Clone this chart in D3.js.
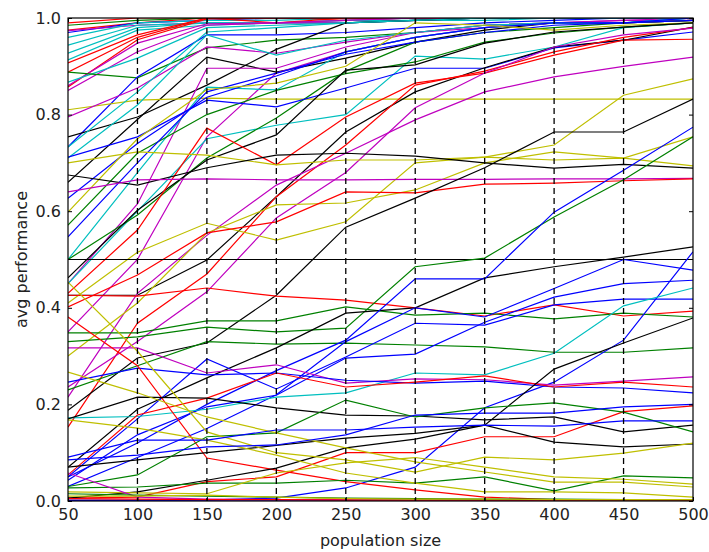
<!DOCTYPE html>
<html>
<head>
<meta charset="utf-8">
<script src="https://cdn.jsdelivr.net/npm/d3@7"></script>
<style>
  body { margin: 0; background: #fff; }
  svg { font-family: "DejaVu Sans", sans-serif; }
</style>
</head>
<body>
<svg width="709" height="552"></svg>
<script>
const populationSizes = [50, 100, 150, 200, 250, 300, 350, 400, 450, 500];
const yTicks = [0.0, 0.2, 0.4, 0.6, 0.8, 1.0];

// one colour code per run (matplotlib classic letters)
const lineCodes = [
  "r","r","g","b","m","c","c","c","c","r",
  "r","r","m","m","c","g","b","k","k","y",
  "m","m","m","c","c","c","c","g","g","b",
  "b","b","y","k","k","r","r","m","m","y",
  "y","y","k","m","r","k","k","r","g","g",
  "g","k","b","b","b","b","b","c","m","b",
  "r","r","r","k","k","k","g","g","y","y",
  "y","y","b","b","b","m","r","g","y"
];

// avg performance per run at each population size
const runs = [
  [0.99, 1, 1, 1, 1, 1, 1, 1, 1, 1],
  [0.975, 0.99, 1, 1, 0.995, 1, 1, 1, 1, 1],
  [0.985, 0.995, 1, 1, 1, 1, 1, 1, 1, 1],
  [0.97, 0.99, 0.995, 1, 1, 1, 1, 1, 1, 1],
  [0.974, 0.985, 0.99, 0.99, 0.995, 1, 1, 1, 1, 1],
  [0.96, 0.99, 0.995, 0.995, 1, 1, 1, 1, 1, 1],
  [0.944, 0.985, 0.99, 0.99, 0.995, 0.995, 1, 1, 1, 1],
  [0.927, 0.98, 0.99, 0.99, 0.99, 0.995, 1, 1, 1, 1],
  [0.913, 0.975, 0.985, 0.99, 0.99, 0.995, 0.995, 1, 1, 1],
  [0.907, 0.965, 1, 0.99, 1, 1, 1, 1, 1, 1],
  [0.888, 0.96, 1, 1, 1, 1, 1, 1, 1, 1],
  [0.857, 0.955, 0.998, 1, 1, 1, 1, 1, 1, 1],
  [0.86, 0.948, 0.988, 0.99, 0.995, 1, 1, 1, 1, 1],
  [0.85, 0.93, 0.985, 0.99, 0.99, 0.995, 1, 1, 1, 1],
  [0.867, 0.917, 0.98, 0.985, 0.99, 0.995, 1, 1, 1, 1],
  [0.888, 0.876, 0.938, 0.954, 0.96, 0.97, 0.985, 0.99, 0.99, 0.995],
  [0.733, 0.878, 0.965, 0.965, 0.97, 0.98, 0.99, 0.995, 1, 1],
  [0.754, 0.795, 0.861, 0.935, 0.99, 0.995, 1, 1, 1, 1],
  [0.66, 0.79, 0.919, 0.888, 0.917, 0.95, 0.975, 0.99, 0.99, 0.995],
  [0.81, 0.83, 0.834, 0.832, 0.832, 0.832, 0.832, 0.832, 0.832, 0.832],
  [0.795, 0.855, 0.94, 0.927, 0.95, 0.97, 0.98, 0.99, 0.99, 0.995],
  [0.45, 0.615, 0.896, 0.896, 0.94, 0.97, 0.985, 0.99, 0.995, 0.995],
  [0.35, 0.5, 0.754, 0.886, 0.93, 0.96, 0.98, 0.99, 0.995, 1],
  [0.733, 0.847, 0.971, 0.98, 0.99, 0.995, 1, 1, 1, 1],
  [0.71, 0.82, 0.965, 0.923, 0.954, 0.97, 0.985, 0.99, 0.99, 1],
  [0.5, 0.68, 0.857, 0.851, 0.93, 0.96, 0.98, 0.99, 0.99, 1],
  [0.45, 0.6, 0.75, 0.778, 0.8, 0.921, 0.915, 0.94, 0.98, 0.99],
  [0.571, 0.72, 0.8, 0.85, 0.885, 0.909, 0.95, 0.969, 0.981, 0.99],
  [0.5, 0.592, 0.71, 0.793, 0.89, 0.95, 0.97, 0.98, 0.99, 0.995],
  [0.712, 0.754, 0.83, 0.816, 0.855, 0.896, 0.896, 0.938, 0.954, 0.971],
  [0.627, 0.74, 0.836, 0.88, 0.93, 0.96, 0.98, 0.99, 0.99, 1],
  [0.547, 0.7, 0.847, 0.886, 0.925, 0.95, 0.97, 0.985, 0.99, 0.995],
  [0.598, 0.75, 0.852, 0.865, 0.9, 0.99, 0.985, 0.975, 0.985, 0.99],
  [0.462, 0.602, 0.706, 0.758, 0.892, 0.903, 0.948, 0.971, 0.981, 0.99],
  [0.426, 0.426, 0.499, 0.63, 0.764, 0.847, 0.897, 0.94, 0.954, 0.981],
  [0.43, 0.561, 0.772, 0.696, 0.795, 0.865, 0.886, 0.923, 0.954, 0.956],
  [0.153, 0.368, 0.47, 0.63, 0.737, 0.861, 0.89, 0.93, 0.96, 0.98],
  [0.236, 0.33, 0.433, 0.586, 0.68, 0.814, 0.886, 0.94, 0.965, 0.979],
  [0.215, 0.43, 0.55, 0.654, 0.72, 0.789, 0.847, 0.878, 0.9, 0.919],
  [0.41, 0.515, 0.575, 0.54, 0.578, 0.7, 0.712, 0.737, 0.84, 0.874],
  [0.3, 0.41, 0.555, 0.613, 0.617, 0.644, 0.7, 0.723, 0.71, 0.754],
  [0.7, 0.723, 0.716, 0.696, 0.706, 0.706, 0.712, 0.706, 0.71, 0.694],
  [0.675, 0.654, 0.69, 0.716, 0.72, 0.714, 0.7, 0.689, 0.697, 0.689],
  [0.64, 0.665, 0.667, 0.665, 0.665, 0.666, 0.666, 0.667, 0.667, 0.668],
  [0.402, 0.468, 0.555, 0.578, 0.64, 0.638, 0.656, 0.658, 0.663, 0.667],
  [0.5, 0.5, 0.5, 0.5, 0.5, 0.5, 0.5, 0.5, 0.5, 0.5],
  [0.188, 0.296, 0.327, 0.426, 0.567, 0.627, 0.69, 0.764, 0.764, 0.832],
  [0.426, 0.424, 0.441, 0.424, 0.416, 0.4, 0.383, 0.406, 0.383, 0.393],
  [0.348, 0.348, 0.373, 0.373, 0.402, 0.385, 0.389, 0.377, 0.389, 0.381],
  [0.33, 0.34, 0.36, 0.35, 0.358, 0.485, 0.503, 0.588, 0.665, 0.754],
  [0.23, 0.28, 0.33, 0.325, 0.327, 0.323, 0.319, 0.308, 0.308, 0.317],
  [0.07, 0.19, 0.255, 0.317, 0.389, 0.4, 0.462, 0.485, 0.505, 0.526],
  [0.05, 0.12, 0.2, 0.27, 0.333, 0.46, 0.46, 0.598, 0.685, 0.774],
  [0.03, 0.09, 0.15, 0.22, 0.33, 0.4, 0.381, 0.44, 0.5, 0.478],
  [0.05, 0.17, 0.294, 0.232, 0.298, 0.368, 0.364, 0.406, 0.418, 0.418],
  [0.043, 0.137, 0.195, 0.219, 0.296, 0.304, 0.37, 0.422, 0.45, 0.457],
  [0.001, 0.001, 0.002, 0.006, 0.027, 0.07, 0.193, 0.246, 0.333, 0.516],
  [0.172, 0.175, 0.19, 0.215, 0.224, 0.265, 0.261, 0.306, 0.404, 0.441],
  [0.317, 0.317, 0.265, 0.282, 0.244, 0.253, 0.251, 0.24, 0.248, 0.257],
  [0.246, 0.275, 0.261, 0.265, 0.25, 0.244, 0.248, 0.236, 0.234, 0.224],
  [0.054, 0.178, 0.213, 0.265, 0.236, 0.246, 0.259, 0.236, 0.246, 0.236],
  [0.381, 0.28, 0.089, 0.064, 0.04, 0.023, 0.008, 0.003, 0.002, 0.002],
  [0.006, 0.008, 0.04, 0.05, 0.1, 0.1, 0.133, 0.133, 0.185, 0.197],
  [0.006, 0.019, 0.043, 0.068, 0.11, 0.128, 0.157, 0.273, 0.327, 0.379],
  [0.17, 0.215, 0.213, 0.193, 0.178, 0.176, 0.168, 0.174, 0.143, 0.157],
  [0.07, 0.085, 0.1, 0.115, 0.13, 0.14, 0.157, 0.122, 0.112, 0.118],
  [0.03, 0.054, 0.133, 0.141, 0.209, 0.174, 0.193, 0.203, 0.184, 0.143],
  [0.027, 0.029, 0.037, 0.037, 0.043, 0.037, 0.05, 0.021, 0.052, 0.048],
  [0.267, 0.224, 0.174, 0.141, 0.11, 0.081, 0.06, 0.039, 0.039, 0.029],
  [0.168, 0.151, 0.126, 0.095, 0.058, 0.037, 0.019, 0.019, 0.017, 0.008],
  [0.453, 0.31, 0.143, 0.1, 0.085, 0.06, 0.091, 0.085, 0.099, 0.12],
  [0.019, 0.017, 0.015, 0.058, 0.079, 0.09, 0.07, 0.05, 0.045, 0.035],
  [0.091, 0.126, 0.126, 0.147, 0.147, 0.153, 0.157, 0.155, 0.166, 0.166],
  [0.085, 0.095, 0.112, 0.116, 0.137, 0.178, 0.182, 0.182, 0.195, 0.2],
  [0.002, 0.002, 0.002, 0.002, 0.002, 0.002, 0.002, 0.002, 0.002, 0.002],
  [0.058, 0.008, 0.004, 0.003, 0.003, 0.002, 0.002, 0.002, 0.002, 0.002],
  [0.005, 0.004, 0.003, 0.003, 0.002, 0.002, 0.002, 0.002, 0.002, 0.002],
  [0.015, 0.012, 0.01, 0.008, 0.006, 0.005, 0.004, 0.004, 0.003, 0.003],
  [0.01, 0.01, 0.012, 0.008, 0.005, 0.004, 0.004, 0.003, 0.003, 0.003]
];

const palette = { b: "#0000ff", g: "#008000", r: "#ff0000", c: "#00bfbf", m: "#bf00bf", y: "#bfbf00", k: "#000000" };

const svg = d3.select("svg");
const plotLeft = 68, plotRight = 693, plotTop = 18, plotBottom = 501;

const x = d3.scaleLinear().domain([50, 500]).range([plotLeft, plotRight]);
const y = d3.scaleLinear().domain([0, 1]).range([plotBottom, plotTop]);

svg.append("defs").append("clipPath").attr("id", "plot")
  .append("rect")
  .attr("x", plotLeft).attr("y", plotTop)
  .attr("width", plotRight - plotLeft).attr("height", plotBottom - plotTop);

const line = d3.line()
  .x((d, i) => x(populationSizes[i]))
  .y(d => y(d));

svg.append("g")
  .attr("clip-path", "url(#plot)")
  .selectAll("path")
  .data(runs)
  .enter().append("path")
  .attr("d", line)
  .attr("fill", "none")
  .attr("stroke", (d, i) => palette[lineCodes[i]])
  .attr("stroke-width", 1.2);

/* grid: dashed verticals at every x tick */
svg.append("g")
  .selectAll("line")
  .data(populationSizes.slice(1, -1))
  .enter().append("line")
  .attr("x1", d => x(d)).attr("x2", d => x(d))
  .attr("y1", plotTop).attr("y2", plotBottom)
  .attr("stroke", "#000")
  .attr("stroke-width", 1.3)
  .attr("stroke-dasharray", "6,4");

/* axes, ticks pointing inwards like matplotlib classic */
svg.append("g")
  .attr("transform", `translate(0,${plotBottom})`)
  .call(d3.axisBottom(x).tickValues(populationSizes).tickFormat(d3.format("d"))
    .tickSize(-4).tickPadding(8));

svg.append("g")
  .attr("transform", `translate(0,${plotTop})`)
  .call(d3.axisTop(x).tickValues(populationSizes).tickFormat("").tickSize(-4));

svg.append("g")
  .attr("transform", `translate(${plotLeft},0)`)
  .call(d3.axisLeft(y).tickValues(yTicks).tickFormat(d3.format(".1f"))
    .tickSize(-4).tickPadding(7));

svg.append("g")
  .attr("transform", `translate(${plotRight},0)`)
  .call(d3.axisRight(y).tickValues(yTicks).tickFormat("").tickSize(-4));

svg.selectAll(".domain").remove();
svg.selectAll(".tick line").attr("stroke", "#000").attr("stroke-width", 1);
svg.selectAll(".tick text")
  .attr("font-family", "DejaVu Sans, sans-serif")
  .attr("font-size", 16)
  .attr("fill", "#222");

svg.append("rect")
  .attr("x", plotLeft).attr("y", plotTop)
  .attr("width", plotRight - plotLeft).attr("height", plotBottom - plotTop)
  .attr("fill", "none")
  .attr("stroke", "#000")
  .attr("stroke-width", 1.2);

svg.append("text")
  .attr("x", (plotLeft + plotRight) / 2)
  .attr("y", 546)
  .attr("text-anchor", "middle")
  .attr("font-size", 16)
  .attr("fill", "#222")
  .text("population size");

svg.append("text")
  .attr("transform", `translate(27,${(plotTop + plotBottom) / 2}) rotate(-90)`)
  .attr("text-anchor", "middle")
  .attr("font-size", 16)
  .attr("fill", "#222")
  .text("avg performance");
</script>
</body>
</html>
